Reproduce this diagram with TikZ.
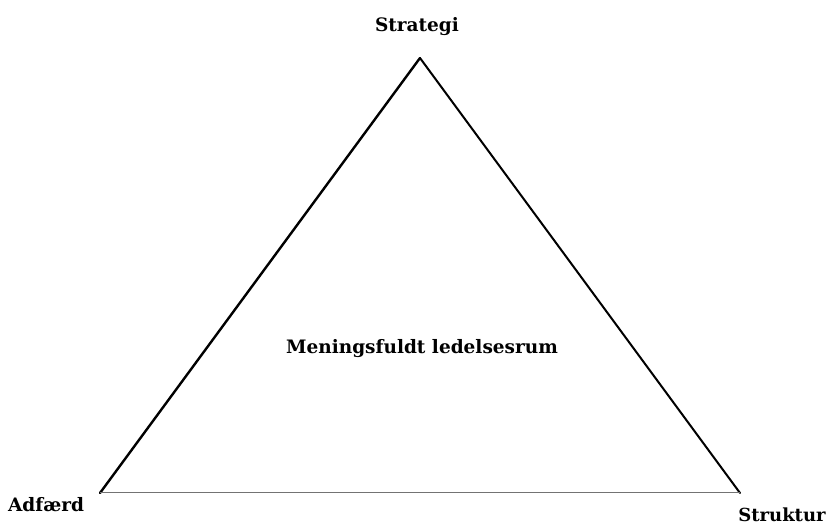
\documentclass[tikz,border=0pt]{standalone}
\usepackage{fontspec}
\setmainfont{DejaVu Serif}
\begin{document}
\begin{tikzpicture}[x=1pt,y=1pt,
  lbl/.style={font=\fontsize{18.5}{21}\selectfont\bfseries, inner sep=0pt}]
\useasboundingbox (0,0) rectangle (828,525);
\coordinate (T) at (420,467);
\coordinate (L) at (100,32);
\coordinate (R) at (740,32);
\draw[line width=2.4pt, line cap=round] (L) -- (T);
\draw[line width=2pt, line cap=round] (T) -- (R);
\draw[line width=1pt, black!55] (L) -- (R);
\node[lbl] (s) at (417,498) {Strategi};
\node[lbl] (a) at (46,20) {Adfærd};
\node[lbl, font=\fontsize{18}{21}\selectfont\bfseries] (k) at (782,10) {Struktur};
\node[lbl] (m) at (422,176) {Meningsfuldt ledelsesrum};
\end{tikzpicture}
\end{document}
